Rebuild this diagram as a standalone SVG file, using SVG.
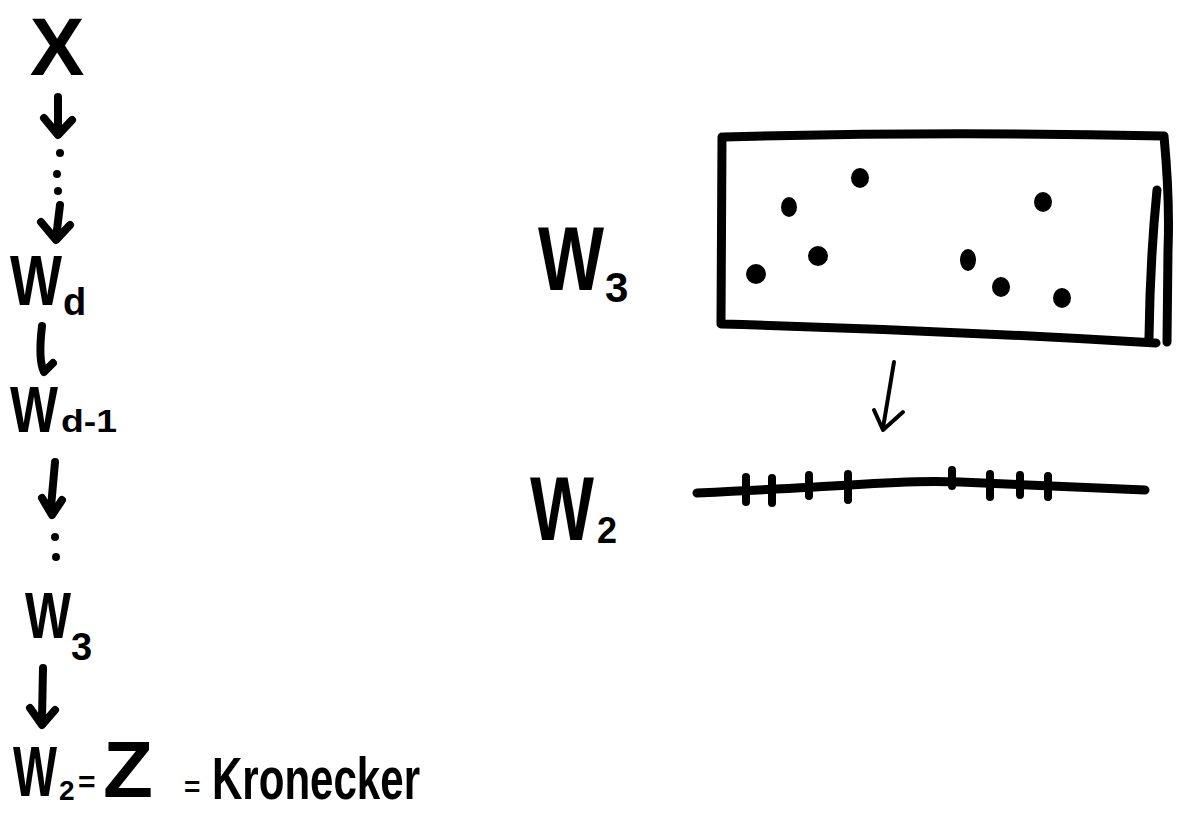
<svg xmlns="http://www.w3.org/2000/svg" width="1177" height="815" viewBox="0 0 1177 815">
<style>
.t{font-family:"Liberation Sans",Arial,sans-serif;font-weight:bold;fill:#000}
.ln{fill:none;stroke:#000;stroke-linecap:round;stroke-linejoin:round}
.ar{fill:none;stroke:#000;stroke-width:8;stroke-linecap:round;stroke-linejoin:round}
.dot{fill:#000}
</style>
<rect width="1177" height="815" fill="#fff"/>
<g id="connectors">
<path class="ar" d="M58,97 L58,131 M44,118 L58,135 L72,120"/>
<path class="ar" d="M60,205 L56,238 M41,222 L56,240 L70,225"/>
<path class="ar" d="M42,326 Q38,360 44,372 L53,363"/>
<path class="ar" d="M55,462 L51,507 M42,498 L52,515 L62,500"/>
<path class="ar" d="M43,668 L42,718 M30,708 L42,725 L55,710"/>
<circle class="dot" cx="60" cy="153" r="4"/>
<circle class="dot" cx="57" cy="174" r="4"/>
<circle class="dot" cx="58" cy="191" r="4"/>
<circle class="dot" cx="55" cy="537" r="4"/>
<circle class="dot" cx="56" cy="557" r="4"/>
<path class="ln" stroke-width="4" d="M894,362 L883,428 M874,410 L883,430 L903,412"/>
</g>
<g id="node-x"><text class="t" x="57" y="75" font-size="82" text-anchor="middle">X</text></g>
<g id="node-wd"><text class="t" x="10" y="305" font-size="70" textLength="52" lengthAdjust="spacingAndGlyphs">W</text><text class="t" x="63" y="315" font-size="38">d</text></g>
<g id="node-wd1"><text class="t" x="10" y="432" font-size="64" textLength="48" lengthAdjust="spacingAndGlyphs">W</text><text class="t" x="61" y="432" font-size="32" textLength="56" lengthAdjust="spacingAndGlyphs">d-1</text></g>
<g id="node-w3"><text class="t" x="25" y="638" font-size="64" textLength="46" lengthAdjust="spacingAndGlyphs">W</text><text class="t" x="71" y="660" font-size="38">3</text></g>
<g id="node-w2"><text class="t" x="13" y="796" font-size="70" textLength="44" lengthAdjust="spacingAndGlyphs">W</text><text class="t" x="59" y="800" font-size="28">2</text><text class="t" x="78" y="792" font-size="30">=</text><text class="t" x="103" y="797" font-size="80" textLength="50" lengthAdjust="spacingAndGlyphs">Z</text><text class="t" x="184" y="796" font-size="28">=</text><text class="t" x="212" y="799" font-size="60" textLength="208" lengthAdjust="spacingAndGlyphs">Kronecker</text></g>
<g id="node-matrix">
<text class="t" x="538" y="290" font-size="90" textLength="66" lengthAdjust="spacingAndGlyphs">W</text><text class="t" x="605" y="302" font-size="42">3</text>
<path class="ln" stroke-width="9" d="M724,137 Q940,131 1164,136 M722,137 L721,323 M721,324 Q940,330 1156,343 M1164,136 Q1170,200 1168,250 L1167,342 M1157,190 Q1150,260 1149,338"/>
<ellipse class="dot" cx="860" cy="178" rx="9" ry="10"/>
<ellipse class="dot" cx="789" cy="207" rx="8" ry="10"/>
<ellipse class="dot" cx="1043" cy="202" rx="9" ry="10"/>
<ellipse class="dot" cx="818" cy="256" rx="10" ry="10"/>
<ellipse class="dot" cx="756" cy="274" rx="10" ry="10"/>
<ellipse class="dot" cx="968" cy="260" rx="8" ry="11"/>
<ellipse class="dot" cx="1001" cy="287" rx="9" ry="10"/>
<ellipse class="dot" cx="1062" cy="298" rx="9" ry="10"/>
</g>
<g id="node-vector">
<text class="t" x="530" y="540" font-size="90" textLength="64" lengthAdjust="spacingAndGlyphs">W</text><text class="t" x="597" y="543" font-size="36">2</text>
<path class="ln" stroke-width="9" d="M697,493 Q800,488 850,485 Q920,480 960,482 Q1060,486 1145,490"/>
<path class="ln" stroke-width="8" d="M746,477 L746,502 M772,478 L772,503 M809,475 L809,496 M848,474 L848,500 M952,470 L952,486 M990,474 L990,497 M1020,475 L1020,495 M1048,476 L1048,497"/>
</g>
</svg>
